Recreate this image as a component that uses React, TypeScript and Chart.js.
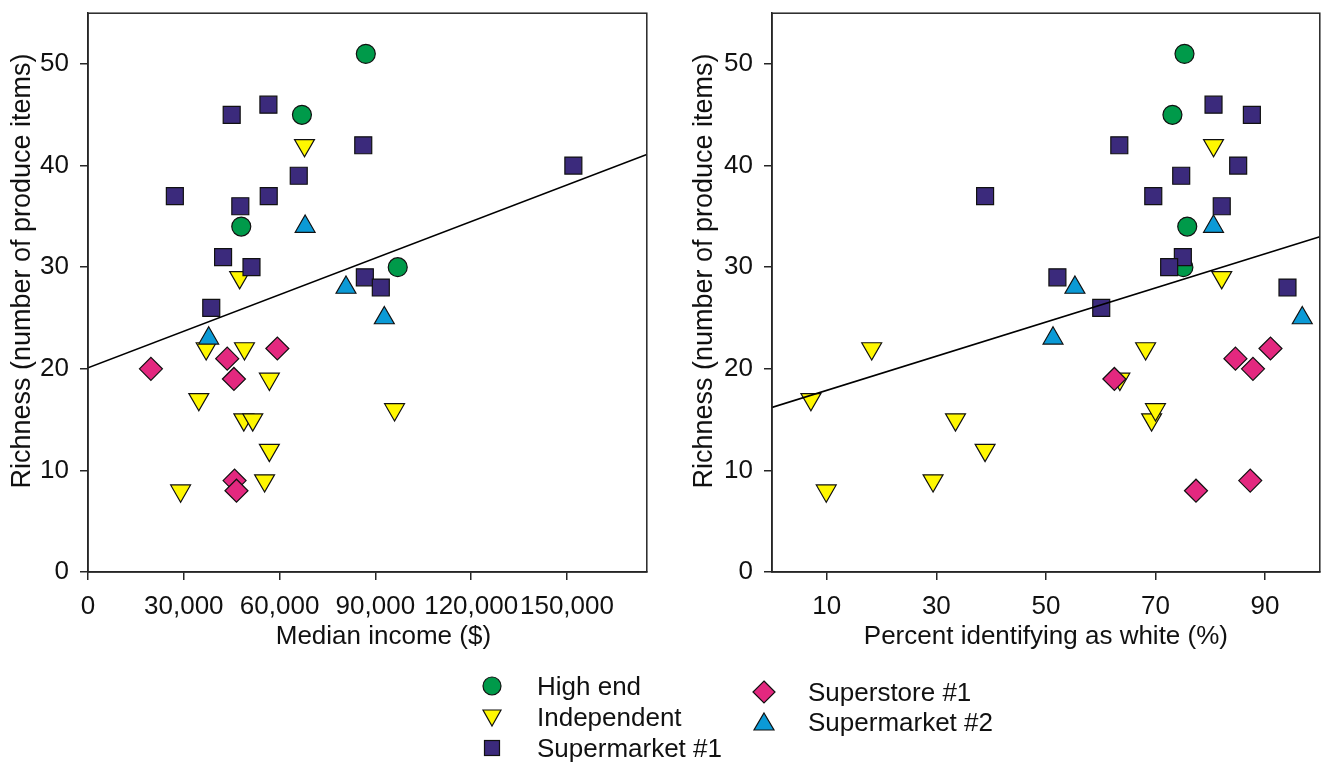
import React, { useEffect, useRef } from "react";
import { Chart, registerables } from "chart.js";

Chart.register(...registerables);

// ---------- Data ----------
const categories = ["High end", "Independent", "Supermarket #1", "Superstore #1", "Supermarket #2"];

const highEndRichness = [51, 45, 34, 30];
const highEndIncome = [87000, 67000, 48000, 97000];
const highEndWhite = [75.3, 73.1, 75.8, 75.1];

const independentRichness = [42, 29, 22, 22, 19, 17, 15, 15, 16, 12, 8, 9];
const independentIncome = [67800, 47500, 37000, 49000, 56800, 34700, 48800, 51600, 96000, 56800, 29000, 55300];
const independentWhite = [80.6, 82.1, 18.2, 68.2, 63.5, 7.1, 69.3, 33.5, 70.0, 38.9, 9.9, 29.4];

const supermarket1Richness = [46, 45, 42, 40, 39, 37, 37, 36, 31, 30, 29, 28, 26];
const supermarket1Income = [56500, 45000, 86200, 152000, 66000, 27200, 56600, 47700, 42300, 51200, 86700, 91700, 38600];
const supermarket1White = [80.6, 87.6, 63.4, 85.1, 74.7, 38.9, 69.6, 82.1, 75.0, 72.5, 52.1, 94.1, 60.1];

const superstore1Richness = [20, 21, 22, 19, 9, 8];
const superstore1Income = [19700, 43600, 59300, 45700, 45900, 46500];
const superstore1White = [87.8, 84.6, 91.0, 62.5, 87.3, 77.4];

const supermarket2Richness = [34, 28, 25, 23];
const supermarket2Income = [68000, 80800, 92800, 37800];
const supermarket2White = [80.6, 55.3, 96.8, 51.3];

// regression fits: [intercept, slope]
const incomeFit = [20.1, 0.00012];
const whiteFit = [16.2, 0.168];

const incomeTicks = [0, 30000, 60000, 90000, 120000, 150000];
const whiteTicks = [10, 30, 50, 70, 90];
const richnessTicks = [0, 10, 20, 30, 40, 50];

const yTitle = "Richness (number of produce items)";
const incomeTitle = "Median income ($)";
const whiteTitle = "Percent identifying as white (%)";

// ---------- Styles ----------
const FONT = '"Liberation Sans", Arial, sans-serif';
const TEXT = "#111111";
const AXIS = "#262626";

const styles = [
  { color: "#009A4A", pointStyle: "circle", radius: 9.5, rotation: 0, order: 6 },
  { color: "#FFF700", pointStyle: "triangle", radius: 11.5, rotation: 180, order: 5 },
  { color: "#3B2A7C", pointStyle: "rect", radius: 12, rotation: 0, order: 4 },
  { color: "#E3287F", pointStyle: "rectRot", radius: 11.5, rotation: 0, order: 3 },
  { color: "#0B9AD6", pointStyle: "triangle", radius: 11.5, rotation: 0, order: 2 },
];

function zip(xs: number[], ys: number[]) {
  return xs.map((x, i) => ({ x, y: ys[i] }));
}

const boxPlugin = {
  id: "box",
  afterDraw(chart: any) {
    const { ctx, chartArea } = chart;
    ctx.save();
    ctx.strokeStyle = AXIS;
    ctx.lineWidth = 1.5;
    ctx.strokeRect(chartArea.left, chartArea.top, chartArea.right - chartArea.left, chartArea.bottom - chartArea.top);
    ctx.restore();
  },
};

const titlesPlugin = {
  id: "axisTitles",
  afterDraw(chart: any, _args: any, opts: any) {
    const { ctx, chartArea } = chart;
    ctx.save();
    ctx.fillStyle = TEXT;
    ctx.textAlign = "center";
    ctx.textBaseline = "middle";
    ctx.font = `26px ${FONT}`;
    ctx.fillText(opts.xText, (chartArea.left + chartArea.right) / 2 + opts.xShift, opts.xY);
    ctx.translate(opts.yX, opts.yY);
    ctx.rotate(-Math.PI / 2);
    ctx.font = `27px ${FONT}`;
    ctx.fillText(opts.yText, 0, 0);
    ctx.restore();
  },
};

function buildConfig(
  xs: number[][],
  fit: number[],
  xMin: number,
  xMax: number,
  xTicks: number[],
  xTitle: string,
  xShift: number,
  yWidth: number,
  yTitleX: number,
  padRight: number,
  fmt: (v: number) => string
) {
  const ys = [highEndRichness, independentRichness, supermarket1Richness, superstore1Richness, supermarket2Richness];
  const datasets: any[] = categories.map((label, i) => ({
    type: "scatter",
    label,
    data: zip(xs[i], ys[i]),
    backgroundColor: styles[i].color,
    borderColor: "#111111",
    borderWidth: 1.2,
    pointStyle: styles[i].pointStyle,
    pointRadius: styles[i].radius,
    pointRotation: styles[i].rotation,
    order: styles[i].order,
  }));
  datasets.push({
    type: "line",
    label: "fit",
    data: [
      { x: xMin, y: fit[0] + fit[1] * xMin },
      { x: xMax, y: fit[0] + fit[1] * xMax },
    ],
    borderColor: "#000000",
    borderWidth: 1.6,
    pointRadius: 0,
    fill: false,
    order: 1,
  });
  return {
    type: "scatter",
    data: { datasets },
    plugins: [boxPlugin, titlesPlugin],
    options: {
      animation: false,
      responsive: false,
      events: [],
      layout: { padding: { top: 13, right: padRight, left: 0, bottom: 0 } },
      plugins: {
        legend: { display: false },
        tooltip: { enabled: false },
        axisTitles: { xText: xTitle, xShift, xY: 637, yText: yTitle, yX: yTitleX, yY: 271 },
      },
      scales: {
        x: {
          type: "linear",
          min: xMin,
          max: xMax,
          afterBuildTicks: (s: any) => {
            s.ticks = xTicks.map((v) => ({ value: v }));
          },
          afterFit: (s: any) => {
            s.height = 108;
            s.paddingLeft = 0;
            s.paddingRight = 0;
          },
          ticks: {
            autoSkip: false,
            maxRotation: 0,
            minRotation: 0,
            padding: 11,
            color: TEXT,
            font: { family: FONT, size: 26 },
            callback: (v: any) => fmt(Number(v)),
          },
          grid: { drawOnChartArea: false, drawTicks: true, tickLength: 8, color: AXIS, lineWidth: 1.5 },
          border: { display: true, color: AXIS, width: 1.5 },
          title: { display: false },
        },
        y: {
          type: "linear",
          min: 0,
          max: 55,
          afterBuildTicks: (s: any) => {
            s.ticks = richnessTicks.map((v) => ({ value: v }));
          },
          afterFit: (s: any) => {
            s.width = yWidth;
            s.paddingTop = 0;
            s.paddingBottom = 0;
          },
          ticks: {
            padding: 11,
            color: TEXT,
            font: { family: FONT, size: 26 },
          },
          grid: { drawOnChartArea: false, drawTicks: true, tickLength: 8, color: AXIS, lineWidth: 1.5 },
          border: { display: true, color: AXIS, width: 1.5 },
          title: { display: false },
        },
      },
    },
  };
}

function ChartCanvas(props: { left: number; width: number; height: number; make: () => any }) {
  const ref = useRef<HTMLCanvasElement | null>(null);
  useEffect(() => {
    if (!ref.current) return;
    const chart = new Chart(ref.current, props.make());
    return () => chart.destroy();
  }, []);
  return (
    <canvas
      ref={ref}
      width={props.width}
      height={props.height}
      style={{ position: "absolute", left: props.left, top: 0, width: props.width, height: props.height }}
    />
  );
}

function Marker(props: { kind: number; cx: number; cy: number }) {
  const s = styles[props.kind];
  let shape: any = null;
  if (props.kind === 0) shape = <circle cx={15} cy={15} r={9} />;
  else if (props.kind === 1) shape = <polygon points="6,8 24,8 15,24" />;
  else if (props.kind === 2) shape = <rect x={7.5} y={7.5} width={15} height={15} />;
  else if (props.kind === 3) shape = <polygon points="15,4 26,15 15,26 4,15" />;
  else shape = <polygon points="15,6 25,23 5,23" />;
  return (
    <svg width={30} height={30} style={{ position: "absolute", left: props.cx - 15, top: props.cy - 15 }}>
      <g fill={s.color} stroke="#111" strokeWidth={1.2}>
        {shape}
      </g>
    </svg>
  );
}

const legendItems = [
  { kind: 0, mx: 492, tx: 537, cy: 686 },
  { kind: 1, mx: 492, tx: 537, cy: 717 },
  { kind: 2, mx: 492, tx: 537, cy: 748 },
  { kind: 3, mx: 764, tx: 808, cy: 692 },
  { kind: 4, mx: 764, tx: 808, cy: 722 },
];

export default function App() {
  return (
    <div
      style={{
        position: "absolute",
        left: 0,
        top: 0,
        width: 1333,
        height: 762,
        background: "#ffffff",
        overflow: "hidden",
      }}
    >
      <ChartCanvas
        left={0}
        width={660}
        height={680}
        make={() =>
          buildConfig(
            [highEndIncome, independentIncome, supermarket1Income, superstore1Income, supermarket2Income],
            incomeFit,
            0,
            175000,
            incomeTicks,
            incomeTitle,
            16,
            88,
            23,
            12,
            (v) => v.toLocaleString("en-US")
          )
        }
      />
      <ChartCanvas
        left={680}
        width={653}
        height={680}
        make={() =>
          buildConfig(
            [highEndWhite, independentWhite, supermarket1White, superstore1White, supermarket2White],
            whiteFit,
            0,
            100,
            whiteTicks,
            whiteTitle,
            0,
            92,
            25,
            2,
            (v) => String(v)
          )
        }
      />
      {legendItems.map((it) => (
        <React.Fragment key={it.kind}>
          <Marker kind={it.kind} cx={it.mx} cy={it.cy} />
          <div
            style={{
              position: "absolute",
              left: it.tx,
              top: it.cy - 16,
              height: 32,
              lineHeight: "32px",
              fontFamily: FONT,
              fontSize: 26,
              color: TEXT,
              whiteSpace: "nowrap",
            }}
          >
            {categories[it.kind]}
          </div>
        </React.Fragment>
      ))}
    </div>
  );
}
